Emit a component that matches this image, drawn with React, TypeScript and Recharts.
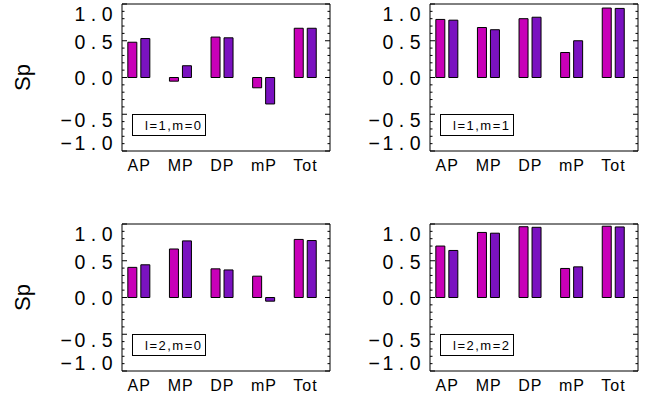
import React from 'react';
import { BarChart, Bar, XAxis, YAxis, Legend, Label } from 'recharts';

// ---------- data ----------
const categories = ['AP', 'MP', 'DP', 'mP', 'Tot'];
const categoryIndex = [0, 1, 2, 3, 4];

const l1m0First = [0.48, -0.05, 0.55, -0.14, 0.67];
const l1m0Second = [0.53, 0.16, 0.54, -0.36, 0.67];
const l1m1First = [0.79, 0.68, 0.8, 0.34, 0.945];
const l1m1Second = [0.78, 0.65, 0.82, 0.5, 0.94];
const l2m0First = [0.41, 0.66, 0.39, 0.29, 0.79];
const l2m0Second = [0.445, 0.77, 0.375, -0.05, 0.775];
const l2m2First = [0.7, 0.885, 0.963, 0.395, 0.97];
const l2m2Second = [0.64, 0.875, 0.955, 0.417, 0.96];

const panelTitles = ['l=1,m=0', 'l=1,m=1', 'l=2,m=0', 'l=2,m=2'];
const yAxisTitle = 'Sp';
const yTicks = [-1, -0.9, -0.8, -0.7, -0.6, -0.5, -0.4, -0.3, -0.2, -0.1, 0, 0.1, 0.2, 0.3, 0.4, 0.5, 0.6, 0.7, 0.8, 0.9, 1];
const yDomain = [-1, 1];
const xDomain = [-0.4, 4.6];
const bottomMarkOffsets = [-0.21, 0.12];

// ---------- style ----------
const PINK = '#C800B8';
const PURPLE = '#7A12C0';
const FONT = "'Liberation Sans', Arial, sans-serif";
const yLabelNudge: Record<string, number> = { '1.0': 9.5, '0.5': 1.3, '0.0': 0.5, '-0.5': 5.5, '-1.0': -8 };

const LeftYTick = (props: any) => {
  const { x, y, payload } = props;
  const v = payload.value as number;
  const major = Math.abs(v * 2 - Math.round(v * 2)) < 1e-6;
  const len = major ? 5 : 2.5;
  const key = v.toFixed(1);
  const neg = key.startsWith('-');
  const body = neg ? key.slice(1) : key;
  return (
    <g>
      <line x1={x} x2={x + len} y1={y} y2={y} stroke="#000" strokeWidth={1} />
      {major && (
        <text
          x={x - 3.7}
          y={y + (yLabelNudge[key] ?? 0) + 7}
          textAnchor="end"
          fontFamily={FONT}
          fontSize={19.5}
          letterSpacing={5.6}
          fill="#000"
        >
          {neg && <tspan letterSpacing={2.5}>{'\u2212'}</tspan>}
          <tspan>{body}</tspan>
        </text>
      )}
    </g>
  );
};

const RightYTick = (props: any) => {
  const { x, y, payload } = props;
  const v = payload.value as number;
  const major = Math.abs(v * 2 - Math.round(v * 2)) < 1e-6;
  const len = major ? 5 : 2.5;
  return <line x1={x} x2={x - len} y1={y} y2={y} stroke="#000" strokeWidth={1} />;
};

const XLabelTick = (props: any) => {
  const { x, y, payload } = props;
  const name = categories[payload.value as number] ?? '';
  return (
    <text x={x + 0.5} y={y + 19.5} textAnchor="middle" fontFamily={FONT} fontSize={16} letterSpacing={1} fill="#000">
      {name}
    </text>
  );
};

const SpLabel = (props: any) => {
  const vb = props.viewBox;
  if (!vb) return null;
  const x = vb.x + vb.width - 92;
  const y = vb.y + vb.height / 2;
  return (
    <text
      x={x}
      y={y}
      textAnchor="middle"
      fontFamily={FONT}
      fontSize={22}
      fill="#000"
      transform={`rotate(-90 ${x} ${y})`}
    >
      {yAxisTitle}
    </text>
  );
};

type PanelProps = {
  first: number[];
  second: number[];
  title: string;
  left: number;
  top: number;
  showTitle: boolean;
};

const Panel = ({ first, second, title, left, top, showTitle }: PanelProps) => {
  const data = categories.map((c, i) => ({ x: categoryIndex[i], name: c, a: first[i], b: second[i] }));
  const bottomMarks = categoryIndex.flatMap((i) => bottomMarkOffsets.map((o) => i + o));
  return (
    <div style={{ position: 'absolute', left, top, width: 340, height: 185 }}>
      <BarChart width={340} height={185} data={data} margin={{ top: 4, right: 8, bottom: 4, left: 62 }} barGap={4}>
        <XAxis
          xAxisId="cat"
          dataKey="x"
          type="number"
          domain={xDomain}
          allowDataOverflow
          ticks={categoryIndex}
          interval={0}
          tickLine={false}
          tickSize={0}
          tickMargin={0}
          height={30}
          axisLine={{ stroke: '#000', strokeWidth: 1 }}
          tick={<XLabelTick />}
        />
        <XAxis
          xAxisId="marks"
          dataKey="x"
          type="number"
          domain={xDomain}
          allowDataOverflow
          ticks={bottomMarks}
          interval={0}
          mirror
          tick={false}
          tickSize={3}
          tickLine={{ stroke: '#000', strokeWidth: 1 }}
          axisLine={false}
        />
        <XAxis
          xAxisId="top"
          orientation="top"
          dataKey="x"
          type="number"
          domain={xDomain}
          allowDataOverflow
          ticks={[0]}
          mirror
          tick={false}
          tickLine={false}
          axisLine={{ stroke: '#000', strokeWidth: 1 }}
        />
        <YAxis
          yAxisId="main"
          type="number"
          domain={yDomain}
          allowDataOverflow
          ticks={yTicks}
          interval={0}
          width={60}
          tickLine={false}
          tickSize={0}
          tickMargin={0}
          axisLine={{ stroke: '#000', strokeWidth: 1 }}
          tick={<LeftYTick />}
        >
          {showTitle && <Label content={<SpLabel />} />}
        </YAxis>
        <YAxis
          yAxisId="right"
          orientation="right"
          type="number"
          domain={yDomain}
          allowDataOverflow
          ticks={yTicks}
          interval={0}
          width={2}
          tickLine={false}
          tickSize={0}
          tickMargin={0}
          axisLine={{ stroke: '#000', strokeWidth: 1 }}
          tick={<RightYTick />}
        />
        <Bar xAxisId="cat" yAxisId="main" dataKey="a" fill={PINK} stroke="#000" strokeWidth={1} barSize={9} isAnimationActive={false} />
        <Bar xAxisId="cat" yAxisId="main" dataKey="b" fill={PURPLE} stroke="#000" strokeWidth={1} barSize={9} isAnimationActive={false} />
        <Legend
          layout="horizontal"
          verticalAlign="middle"
          align="center"
          wrapperStyle={{ left: 131.5, top: 114, width: 74, height: 22 }}
          content={() => (
            <div
              style={{
                boxSizing: 'border-box',
                width: 74,
                height: 22,
                border: '1px solid #000',
                background: '#fff',
                fontFamily: FONT,
                fontSize: 13,
                letterSpacing: 1.5,
                color: '#000',
                display: 'flex',
                alignItems: 'center',
                justifyContent: 'flex-end',
                paddingRight: 2,
                whiteSpace: 'nowrap',
              }}
            >
              {title}
            </div>
          )}
        />
      </BarChart>
    </div>
  );
};

export default function App() {
  return (
    <div style={{ position: 'absolute', left: 0, top: 0, width: 653, height: 400, background: '#fff', overflow: 'hidden' }}>
      <Panel first={l1m0First} second={l1m0Second} title={panelTitles[0]} left={0} top={0} showTitle />
      <Panel first={l1m1First} second={l1m1Second} title={panelTitles[1]} left={308} top={0} showTitle={false} />
      <Panel first={l2m0First} second={l2m0Second} title={panelTitles[2]} left={0} top={220} showTitle />
      <Panel first={l2m2First} second={l2m2Second} title={panelTitles[3]} left={308} top={220} showTitle={false} />
    </div>
  );
}
